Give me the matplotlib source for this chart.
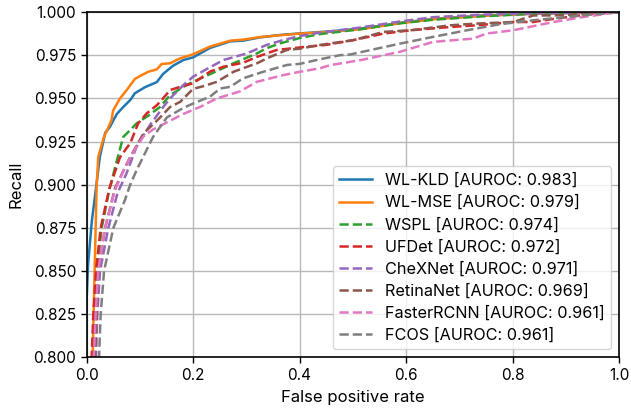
import matplotlib
matplotlib.use("Agg")
import matplotlib.pyplot as plt

plt.rcParams['font.family'] = ['Inter', 'DejaVu Sans']

labels = ["WL-KLD [AUROC: 0.983]", "WL-MSE [AUROC: 0.979]", "WSPL [AUROC: 0.974]",
          "UFDet [AUROC: 0.972]", "CheXNet [AUROC: 0.971]", "RetinaNet [AUROC: 0.969]",
          "FasterRCNN [AUROC: 0.961]", "FCOS [AUROC: 0.961]"]

kld_fpr = [0, 0, 0.003, 0.010, 0.019, 0.025, 0.035, 0.044, 0.050, 0.057, 0.069, 0.082, 0.091, 0.110,
           0.132, 0.144, 0.163, 0.182, 0.200, 0.232, 0.270, 0.294, 0.326, 0.363, 0.401, 0.457, 0.514,
           0.589, 0.651, 0.745, 0.839, 1.0]
kld_rec = [0, 0.832, 0.854, 0.879, 0.901, 0.916, 0.930, 0.9335, 0.937, 0.941, 0.945, 0.949, 0.953,
           0.9565, 0.9594, 0.9642, 0.969, 0.9722, 0.9737, 0.9792, 0.983, 0.9834, 0.9853, 0.9867,
           0.9876, 0.9888, 0.9904, 0.9937, 0.9960, 0.998, 0.999, 1.0]

mse_fpr = [0, 0.0116, 0.013, 0.016, 0.019, 0.022, 0.032, 0.047, 0.050, 0.063, 0.075, 0.091, 0.104,
           0.116, 0.132, 0.141, 0.157, 0.176, 0.200, 0.232, 0.270, 0.294, 0.326, 0.363, 0.401, 0.457,
           0.514, 0.589, 0.651, 0.745, 0.839, 1.0]
mse_rec = [0, 0.800, 0.821, 0.860, 0.899, 0.916, 0.927, 0.9374, 0.943, 0.950, 0.9546, 0.9613, 0.9635,
           0.9654, 0.9668, 0.9699, 0.9703, 0.9732, 0.9755, 0.980, 0.9834, 0.9840, 0.9855, 0.9865,
           0.9875, 0.9885, 0.9900, 0.9935, 0.9958, 0.9978, 0.999, 1.0]

wspl_fpr = [0, 0.0115, 0.015, 0.019, 0.0285, 0.042, 0.057, 0.069, 0.082, 0.094, 0.116, 0.138, 0.157,
            0.182, 0.200, 0.232, 0.276, 0.320, 0.338, 0.363, 0.401, 0.438, 0.514, 0.589, 0.651,
            0.745, 0.839, 1.0]
wspl_rec = [0, 0.800, 0.825, 0.850, 0.875, 0.896, 0.914, 0.9277, 0.9316, 0.9355, 0.940, 0.945,
            0.9519, 0.9567, 0.9596, 0.9640, 0.9703, 0.976, 0.979, 0.9818, 0.985, 0.9872, 0.990,
            0.9935, 0.9955, 0.9975, 0.999, 1.0]

ufdet_fpr = [0, 0.0097, 0.0128, 0.0178, 0.0266, 0.043, 0.063, 0.082, 0.097, 0.113, 0.132, 0.141,
             0.157, 0.176, 0.200, 0.232, 0.257, 0.294, 0.320, 0.357, 0.401, 0.451, 0.501, 0.558,
             0.608, 0.683, 0.733, 0.802, 0.839, 0.877, 0.952, 1.0]
ufdet_rec = [0, 0.800, 0.825, 0.850, 0.875, 0.898, 0.916, 0.924, 0.9355, 0.9413, 0.946, 0.949,
             0.9548, 0.9567, 0.9587, 0.9655, 0.9683, 0.9706, 0.974, 0.978, 0.9795, 0.9810, 0.9837,
             0.9875, 0.9894, 0.9913, 0.9923, 0.9942, 0.9942, 0.996, 0.999, 1.0]

chex_fpr = [0, 0.0178, 0.0203, 0.0254, 0.041, 0.058, 0.075, 0.094, 0.119, 0.144, 0.157, 0.182,
            0.200, 0.226, 0.257, 0.301, 0.338, 0.370, 0.401, 0.438, 0.514, 0.589, 0.651, 0.745,
            0.839, 1.0]
chex_rec = [0, 0.800, 0.825, 0.850, 0.875, 0.895, 0.9065, 0.922, 0.9345, 0.945, 0.950, 0.9577,
            0.9625, 0.967, 0.9722, 0.976, 0.9809, 0.9838, 0.9861, 0.988, 0.991, 0.9945, 0.997,
            0.9985, 0.9992, 1.0]

retina_fpr = [0, 0.016, 0.019, 0.022, 0.035, 0.0535, 0.082, 0.107, 0.132, 0.157, 0.176, 0.200,
              0.219, 0.245, 0.276, 0.320, 0.345, 0.376, 0.401, 0.438, 0.501, 0.558, 0.608, 0.683,
              0.733, 0.802, 0.839, 0.877, 0.952, 1.0]
retina_rec = [0, 0.800, 0.825, 0.850, 0.875, 0.898, 0.916, 0.9297, 0.937, 0.945, 0.948, 0.9555,
              0.957, 0.9596, 0.9654, 0.9703, 0.974, 0.978, 0.9788, 0.9809, 0.9837, 0.9885, 0.9894,
              0.9923, 0.9933, 0.9942, 0.998, 0.998, 0.999, 1.0]

frcnn_fpr = [0, 0.0137, 0.0172, 0.022, 0.0347, 0.0535, 0.075, 0.094, 0.107, 0.125, 0.144, 0.163,
             0.182, 0.213, 0.245, 0.288, 0.320, 0.370, 0.401, 0.438, 0.457, 0.514, 0.589, 0.651,
             0.726, 0.751, 0.801, 0.877, 0.933, 1.0]
frcnn_rec = [0, 0.800, 0.825, 0.850, 0.875, 0.897, 0.912, 0.922, 0.928, 0.932, 0.935, 0.938,
             0.941, 0.945, 0.950, 0.954, 0.9596, 0.9635, 0.9654, 0.9674, 0.9692, 0.9721, 0.977,
             0.9827, 0.9846, 0.9875, 0.9894, 0.9942, 0.9971, 1.0]

fcos_fpr = [0, 0.0235, 0.0266, 0.0329, 0.0504, 0.072, 0.082, 0.094, 0.125, 0.151, 0.182, 0.200,
            0.232, 0.251, 0.270, 0.294, 0.332, 0.376, 0.401, 0.438, 0.476, 0.495, 0.589, 0.651,
            0.714, 0.776, 0.839, 0.901, 1.0]
fcos_rec = [0, 0.800, 0.825, 0.850, 0.875, 0.891, 0.900, 0.9084, 0.9277, 0.939, 0.9445, 0.947,
            0.951, 0.9557, 0.9567, 0.9616, 0.9654, 0.9693, 0.970, 0.9726, 0.975, 0.9754, 0.9817,
            0.9856, 0.9894, 0.9929, 0.9952, 0.9971, 1.0]

series = [(kld_fpr, kld_rec, '-'), (mse_fpr, mse_rec, '-'), (wspl_fpr, wspl_rec, '--'),
          (ufdet_fpr, ufdet_rec, '--'), (chex_fpr, chex_rec, '--'), (retina_fpr, retina_rec, '--'),
          (frcnn_fpr, frcnn_rec, '--'), (fcos_fpr, fcos_rec, '--')]
colors = ['C0', 'C1', 'C2', 'C3', 'C4', 'C5', 'C6', 'C7']

xticks = [0.0, 0.2, 0.4, 0.6, 0.8, 1.0]
yticks = [0.800, 0.825, 0.850, 0.875, 0.900, 0.925, 0.950, 0.975, 1.000]

fig = plt.figure(figsize=(6.31, 4.12), dpi=100)
ax = fig.add_axes([0.1371, 0.1323, 0.981 - 0.1371, 0.9709 - 0.1323])

for (f, r, ls), c, lab in zip(series, colors, labels):
    ax.plot(f, r, ls, color=c, lw=1.8, label=lab)

ax.set_xlim(0, 1)
ax.set_ylim(0.8, 1.0)
ax.set_xticks(xticks)
ax.set_yticks(yticks)
ax.set_xticklabels([f"{t:.1f}" for t in xticks])
ax.set_yticklabels([f"{t:.3f}" for t in yticks])
ax.tick_params(labelsize=11, width=1.0, length=4)
ax.grid(True, color='#b8b8b8', lw=1.0)
ax.set_axisbelow(True)
for s in ax.spines.values():
    s.set_linewidth(1.2)
ax.set_xlabel("False positive rate", fontsize=12, labelpad=5)
ax.set_ylabel("Recall", fontsize=12, labelpad=7)

ax.legend(loc='lower right', fontsize=11.7, labelspacing=0.42, borderpad=0.4,
          handlelength=2.0, handletextpad=0.8, borderaxespad=0.5)

fig.savefig("out.png", dpi=100)
